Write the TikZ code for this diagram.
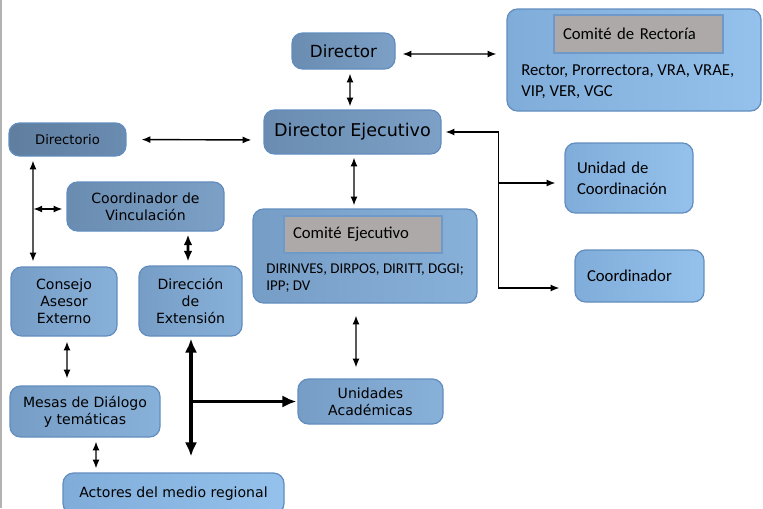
\documentclass[tikz,border=0pt]{standalone}
\usepackage{fontspec}
\setmainfont{DejaVu Sans}
\newfontfamily\calfont{Carlito}
\usetikzlibrary{arrows.meta}
\usetikzlibrary{calc}

\definecolor{boxline}{RGB}{98,141,190}
\definecolor{darkA}{RGB}{106,140,177}
\definecolor{darkB}{RGB}{124,160,198}
\definecolor{midA}{RGB}{118,157,198}
\definecolor{midB}{RGB}{136,177,218}
\definecolor{lightA}{RGB}{128,172,217}
\definecolor{lightB}{RGB}{148,194,236}
\definecolor{titlegray}{RGB}{173,169,168}
\definecolor{titleline}{RGB}{110,153,200}

\tikzset{
  box/.style={rounded corners=6pt, draw=boxline, line width=0.7pt, inner sep=0pt, align=center},
  darkbox/.style={box, left color=darkA, right color=darkB},
  midbox/.style={box, left color=midA, right color=midB},
  lightbox/.style={box, left color=lightA, right color=lightB},
  titlebox/.style={draw=titleline, fill=titlegray, line width=0.8pt, inner ysep=0pt, inner xsep=0.18cm, align=left},
  sz/.style 2 args={minimum width={#1*0.02cm}, minimum height={#2*0.02cm}},
  txt/.style={font=\fontsize{8}{9.6}\selectfont},
  cal/.style={font=\calfont\fontsize{9.5}{12}\selectfont},
  link/.style={line width=0.8pt, {Latex[length=5pt,width=4pt]}-{Latex[length=5pt,width=4pt]}},
  onelink/.style={line width=0.8pt, -{Latex[length=5pt,width=4pt]}},
  thicklink/.style={line width=1.5pt, {Latex[length=6pt,width=5pt]}-{Latex[length=6pt,width=5pt]}},
  heavylink/.style={line width=2.2pt, {Latex[length=8pt,width=7pt]}-{Latex[length=8pt,width=7pt]}},
  heavyone/.style={line width=2.2pt, -{Latex[length=8pt,width=7pt]}}
}

\begin{document}
\begin{tikzpicture}[x=0.02cm, y=-0.02cm]
\useasboundingbox (0,0) rectangle (763,508);
\draw[gray!60, line width=1pt] (1,0) -- (1,508);

\node[darkbox, sz={103}{36}, font=\fontsize{9.5}{11}\selectfont] (dir) at (343.5,51) {Director};
\node[lightbox, sz={254}{102}] (rect) at (634,60) {};
\node[titlebox, text width=3.02cm, minimum height=0.76cm, cal] (rectTitle) at (638.5,34) {Comité de Rectoría};
\node[cal, align=left, inner sep=0pt, anchor=north west] (rectText) at (521,64) {Rector, Prorrectora, VRA, VRAE,\\VIP, VER, VGC};

\node[darkbox, sz={177}{44}, font=\fontsize{10}{12}\selectfont] (dirEj) at (352.5,132) {Director Ejecutivo};
\node[darkbox, left color=darkA!90!black, right color=darkA, sz={117}{33}, font=\fontsize{7.5}{9}\selectfont] (directorio) at (67.5,139.5) {Directorio};
\node[darkbox, sz={157}{49}, txt] (coordVinc) at (145.5,206.5) {Coordinador de\\Vinculación};

\node[midbox, sz={224}{94}] (comEj) at (365,256) {};
\node[titlebox, text width=2.8cm, minimum height=0.74cm, cal] (comEjTitle) at (363,234.5) {Comité Ejecutivo};
\node[font=\calfont\fontsize{8.5}{9.8}\selectfont, align=left, inner sep=0pt, anchor=north west] (comEjText) at (266,263) {DIRINVES, DIRPOS, DIRITT, DGGI;\\IPP; DV};

\node[lightbox, sz={128}{70}, text width=2.08cm, inner xsep=0.24cm, align=left, cal] (unidadCoord) at (629,178) {Unidad de\\Coordinación};
\node[lightbox, sz={129}{52}, text width=2.1cm, inner xsep=0.24cm, align=left, cal] (coord) at (639.5,276) {Coordinador};

\node[midbox, sz={106}{69}, txt] (consejo) at (64,301.5) {Consejo\\Asesor\\Externo};
\node[midbox, sz={103}{70}, txt] (dirExt) at (190.5,301) {Dirección\\de\\Extensión};
\node[midbox, sz={150}{51}, txt] (mesas) at (85,411.5) {Mesas de Diálogo\\y temáticas};
\node[midbox, sz={145}{45}, txt] (unidades) at (370.5,401.5) {Unidades\\Académicas};
\node[lightbox, sz={221}{41}, txt] (actores) at (173.5,493.5) {Actores del medio regional};

\draw[link, shorten <=0.14cm, shorten >=0.2cm] ([yshift=-0.06cm]dir.east) -- ([yshift=0.12cm]rect.west);
\draw[link, shorten <=0.08cm, shorten >=0.06cm] ([xshift=0.13cm]dir.south) -- ([xshift=-0.05cm]dirEj.north);
\draw[link, shorten <=0.3cm, shorten >=0.24cm] (directorio.east) -- ([yshift=-0.16cm]dirEj.west);

\coordinate (jn) at ($(dirEj.east)+(57,0)$);
\draw[onelink, shorten >=0.08cm] (jn) -- (dirEj.east);
\draw[onelink, shorten >=0.3cm] (jn) |- ([yshift=-0.24cm]coord.west);
\draw[onelink, shorten >=0.18cm] ([yshift=-0.1cm]unidadCoord.west -| jn) -- ([yshift=-0.1cm]unidadCoord.west);

\draw[link, shorten <=0.06cm, shorten >=0.06cm] ([xshift=0.03cm]dirEj.south) -- ([xshift=-0.22cm]comEj.north);
\draw[link, shorten <=0.24cm, shorten >=0.22cm] ([xshift=-0.18cm]comEj.south) -- ([xshift=-0.29cm]unidades.north);

\draw[link, shorten <=0.08cm, shorten >=0.1cm] ([xshift=-0.69cm]directorio.south) -- ([xshift=-0.62cm]consejo.north);
\draw[link, shorten <=0.02cm, shorten >=0.08cm] ([xshift=-0.68cm,yshift=-0.05cm]coordVinc.west) -- ([yshift=-0.05cm]coordVinc.west);
\draw[thicklink, shorten <=0.06cm, shorten >=0.08cm] ([xshift=0.85cm]coordVinc.south) -- ([xshift=-0.05cm]dirExt.north);

\draw[heavylink, shorten <=0.04cm, shorten >=0.32cm] ([xshift=0.01cm]dirExt.south) -- ([xshift=0.35cm]actores.north);
\draw[heavyone, shorten >=0.02cm] ([xshift=0.01cm]dirExt.south |- unidades.west) -- (unidades.west);

\draw[link, shorten <=0.1cm, shorten >=0.14cm] ([xshift=0.06cm]consejo.south) -- ([xshift=-0.36cm]mesas.north);
\draw[link, shorten <=0.08cm, shorten >=0.08cm] ([xshift=0.22cm]mesas.south) -- ([xshift=-1.55cm]actores.north);

\end{tikzpicture}
\end{document}
